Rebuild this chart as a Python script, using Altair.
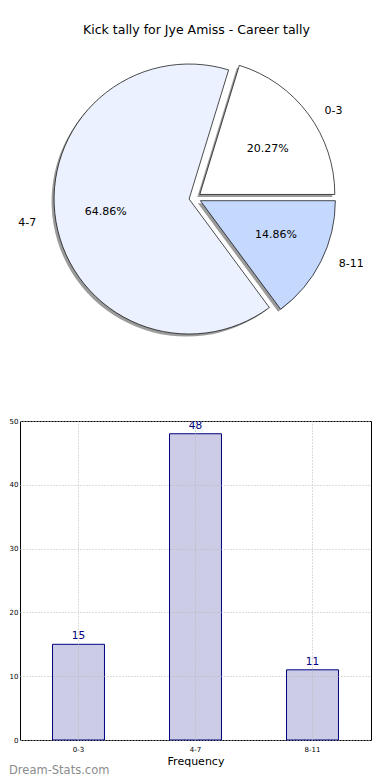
import math
import altair as alt
import pandas as pd

# ---------------- data ----------------
categories = ["0-3", "4-7", "8-11"]
counts = [15, 48, 11]
pie_colors = ["#ffffff", "#ebf1fe", "#c5d8fe"]
pie_draw_order = [0, 2, 1]          # clockwise order used by Vega
title_text = "Kick tally for Jye Amiss - Career tally"
x_title = "Frequency"
y_ticks = [0, 10, 20, 30, 40, 50]
watermark = "Dream-Stats.com"

total = sum(counts)

# ---------------- style constants ----------------
FONT = "DejaVu Sans"
TOP_W, TOP_H = 351, 373
BAR_W, BAR_H = 351, 319
CX, CY = 175, 190       # pie centre in the top panel
R = 135
EXP = 6                 # explode distance (px)
LRX, LRY = 1.1 * 141, 1.1 * 127   # label distances (horizontal / vertical)
PRX, PRY = 0.6 * 141, 0.6 * 127   # percentage distances
START = math.pi / 2 - 2 * math.pi * counts[0] / total

pie_df = pd.DataFrame({
    "cat": categories,
    "count": counts,
    "ord": pie_draw_order,
    "color": pie_colors,
    "pct": [f"{c / total * 100:.2f}%" for c in counts],
})

base = (
    alt.Chart(pie_df)
    .transform_stack(stack="count", groupby=[], as_=["s0", "s1"],
                     sort=[alt.SortField("ord", order="ascending")])
    .transform_calculate(
        a0=f"{START} + 2*PI*datum.s0/{total}",
        a1=f"{START} + 2*PI*datum.s1/{total}",
    )
    .transform_calculate(mid="(datum.a0 + datum.a1)/2")
    .transform_calculate(
        cx=f"{CX} + {EXP}*sin(datum.mid)",
        cy=f"{CY} - {EXP}*cos(datum.mid)",
    )
    .transform_calculate(
        lx=f"datum.cx + {LRX}*sin(datum.mid)",
        ly=f"datum.cy - {LRY}*cos(datum.mid)",
        px=f"datum.cx + {PRX}*sin(datum.mid)",
        py=f"datum.cy - {PRY}*cos(datum.mid)",
        side="sin(datum.mid) >= 0 ? 1 : 0",
    )
)

enc_arc = dict(
    theta=alt.Theta("a0:Q", scale=None, stack=None),
    theta2="a1:Q",
    x=alt.X("cx:Q", scale=None, axis=None),
    y=alt.Y("cy:Q", scale=None, axis=None),
)

shadow = base.mark_arc(radius=R, fill="#7a7a7a", opacity=0.75,
                       xOffset=-2.5, yOffset=2.5).encode(**enc_arc)
arcs = base.mark_arc(radius=R, stroke="black", strokeWidth=0.7).encode(
    fill=alt.Fill("color:N", scale=None), **enc_arc)

lab_right = base.transform_filter("datum.side == 1").mark_text(
    align="left", baseline="middle", font=FONT, fontSize=11, color="black"
).encode(x=alt.X("lx:Q", scale=None), y=alt.Y("ly:Q", scale=None), text="cat:N")
lab_left = base.transform_filter("datum.side == 0").mark_text(
    align="right", baseline="middle", font=FONT, fontSize=11, color="black"
).encode(x=alt.X("lx:Q", scale=None), y=alt.Y("ly:Q", scale=None), text="cat:N")
pct = base.mark_text(
    align="center", baseline="middle", font=FONT, fontSize=11, color="black"
).encode(x=alt.X("px:Q", scale=None), y=alt.Y("py:Q", scale=None), text="pct:N")

title = alt.Chart(pd.DataFrame({"t": [title_text]})).mark_text(
    font=FONT, fontSize=12.5, color="black", align="center", baseline="middle"
).encode(x=alt.value(TOP_W / 2 + 1), y=alt.value(22), text="t:N")

top = alt.layer(shadow, arcs, pct, lab_right, lab_left, title).properties(
    width=TOP_W, height=TOP_H)

# ---------------- bar chart ----------------
bar_df = pd.DataFrame({"cat": categories, "count": counts})

grid_kw = dict(grid=True, gridDash=[1, 2], gridColor="#b8b8b8", gridWidth=1, zindex=1)

xenc = alt.X(
    "cat:N", sort=categories, title=x_title,
    scale=alt.Scale(paddingInner=0.556, paddingOuter=0.278),
    axis=alt.Axis(labelAngle=0, bandPosition=0.5, labelFontSize=7, labelFont=FONT,
                  labelColor="black", tickSize=0, domain=False,
                  titleFont=FONT, titleFontSize=11, titleFontWeight="normal",
                  titleColor="black", titlePadding=3, labelPadding=5, **grid_kw),
)
yenc = alt.Y(
    "count:Q", title=None,
    scale=alt.Scale(domain=[0, 50], nice=False),
    axis=alt.Axis(values=y_ticks, labelFontSize=7, labelFont=FONT, labelColor="black",
                  tickSize=0, domain=False, labelPadding=2, minExtent=0, **grid_kw),
)

bars = alt.Chart(bar_df).mark_bar(fill="#ccccE6", stroke="#000080", strokeWidth=1).encode(
    x=xenc, y=yenc)
bar_text = alt.Chart(bar_df).mark_text(
    dy=-8, color="#000080", font=FONT, fontSize=10.5, baseline="middle"
).encode(x=alt.X("cat:N", sort=categories), y="count:Q", text="count:Q")

wm = alt.Chart(pd.DataFrame({"t": [watermark]})).mark_text(
    font=FONT, fontSize=11.5, color="#8c8c8c", align="left",
    baseline="middle"
).encode(x=alt.value(-11), y=alt.value(BAR_H + 31), text="t:N")

bottom = alt.layer(bars, bar_text, wm).properties(
    width=BAR_W, height=BAR_H,
    view=alt.ViewBackground(stroke="black", strokeWidth=1),
)

chart = (
    alt.vconcat(top, bottom, spacing=40, bounds="flush")
    .properties(padding=0)
    .configure_view(strokeWidth=0)
)

chart.save("out.html", embed_options={"renderer": "svg", "actions": False})
